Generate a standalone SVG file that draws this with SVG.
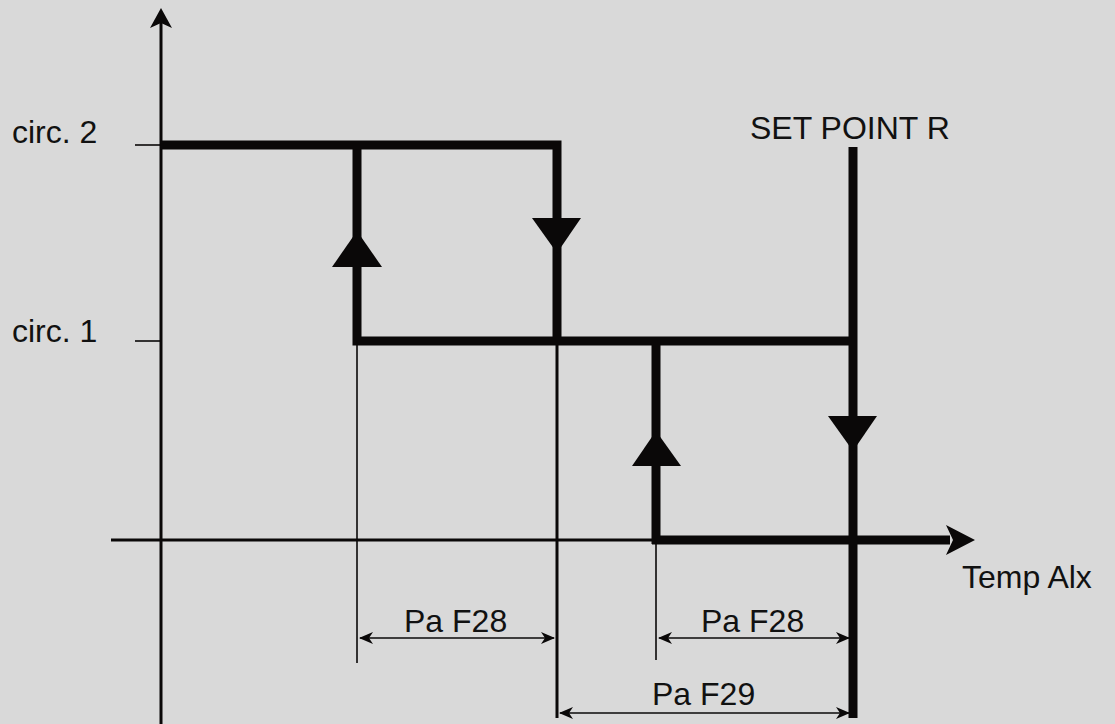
<svg xmlns="http://www.w3.org/2000/svg" width="1115" height="724" viewBox="0 0 1115 724">
<style>
.t{font-family:"Liberation Sans",Arial,sans-serif;font-size:32px;fill:#111}
.thick{stroke:#0a0808;stroke-width:9;fill:none;stroke-linejoin:miter;stroke-linecap:butt}
.thin{stroke:#0a0808;stroke-width:1.6;fill:none}
.ax{stroke:#0a0808;stroke-width:3;fill:none}
.tri{fill:#0a0808}
</style>
<defs>
<marker id="dimA" viewBox="0 0 14 12" refX="13" refY="6" markerWidth="14" markerHeight="12" markerUnits="userSpaceOnUse" orient="auto-start-reverse">
<path d="M0,0 L14,6 L0,12 L4,6 Z" fill="#0a0808"/>
</marker>
</defs>
<rect width="1115" height="724" fill="#d9d9d9"/>
<g id="axes">
<line class="ax" x1="161" y1="20" x2="161" y2="724"/>
<path class="tri" d="M161,8 L172,28 L161,23 L150,28 Z"/>
<line class="ax" x1="111" y1="540" x2="656" y2="540"/>
<line class="thick" x1="652" y1="540" x2="950" y2="540"/>
<path class="tri" d="M975,540 L946,525 L953,540 L946,555 Z"/>
<line class="thin" x1="135" y1="145" x2="161" y2="145"/>
<line class="thin" x1="135" y1="341" x2="161" y2="341"/>
</g>
<g id="labels">
<text class="t" x="12" y="143">circ. 2</text>
<text class="t" x="12" y="342">circ. 1</text>
<text class="t" x="750" y="139">SET POINT R</text>
<text class="t" x="962" y="588">Temp Alx</text>
</g>
<g id="curve">
<path class="thick" d="M161,145 H557 V341"/>
<path class="thick" d="M357,145 V341 H857"/>
<path class="thick" d="M656,341 V544"/>
<line x1="853" y1="147" x2="853" y2="718" stroke="#0a0808" stroke-width="9"/>
<path class="tri" d="M357,231 L382,267 L332,267 Z"/>
<path class="tri" d="M557,253 L532,218 L581,218 Z"/>
<path class="tri" d="M656,431 L681,466 L632,466 Z"/>
<path class="tri" d="M853,451 L828,416 L877,416 Z"/>
</g>
<g id="connectors">
<line class="thin" x1="357" y1="341" x2="357" y2="663"/>
<line x1="557" y1="341" x2="557" y2="718" stroke="#0a0808" stroke-width="3"/>
<line class="thin" x1="656" y1="540" x2="656" y2="660"/>
<line class="thin" x1="360" y1="638" x2="554" y2="638" marker-start="url(#dimA)" marker-end="url(#dimA)"/>
<line class="thin" x1="659" y1="638" x2="849" y2="638" marker-start="url(#dimA)" marker-end="url(#dimA)"/>
<line class="thin" x1="560" y1="713" x2="849" y2="713" marker-start="url(#dimA)" marker-end="url(#dimA)"/>
</g>
<g id="dims">
<text class="t" x="404" y="632">Pa F28</text>
<text class="t" x="701" y="632">Pa F28</text>
<text class="t" x="652" y="705">Pa F29</text>
</g>
</svg>
